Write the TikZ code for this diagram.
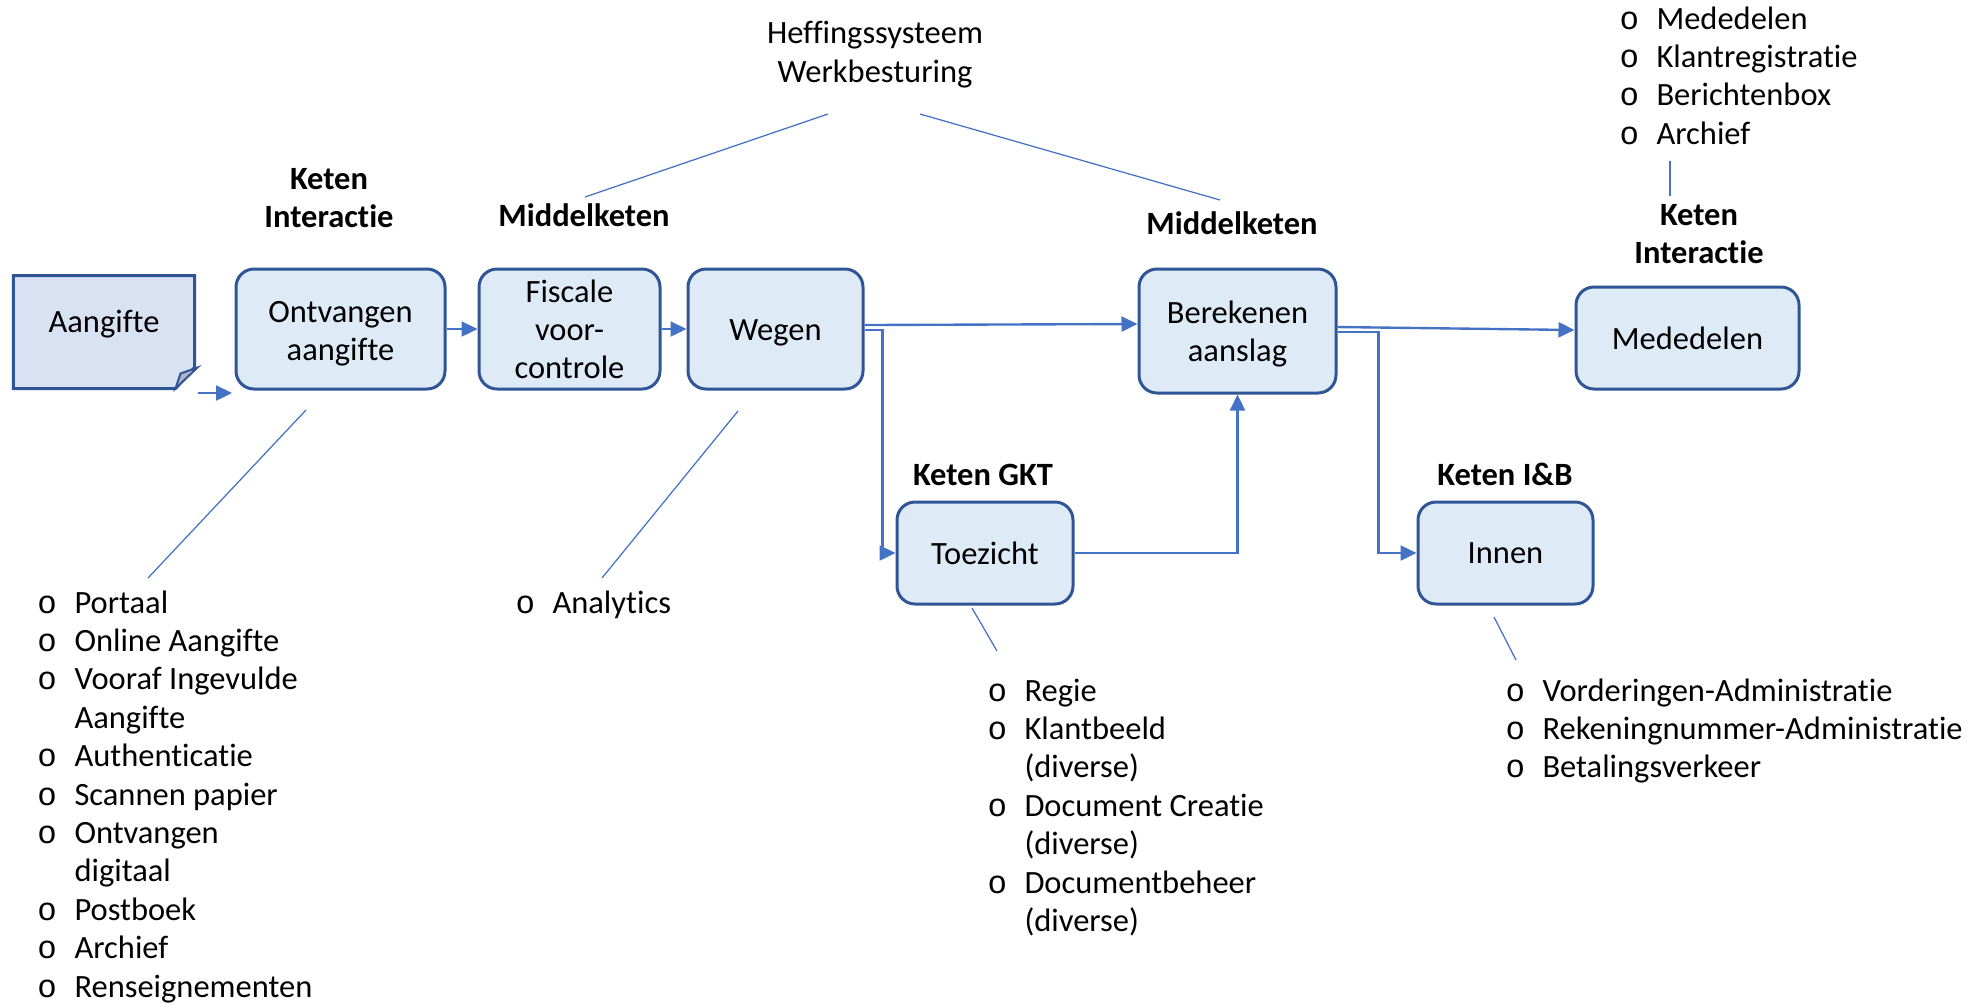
\documentclass[tikz,border=0pt]{standalone}
\usepackage{fontspec}
\setmainfont{Carlito}[Ligatures=NoCommon]
\newfontfamily\bulf{Liberation Mono}
\usetikzlibrary{arrows.meta}
\definecolor{boxfill}{HTML}{DEEBF7}
\definecolor{boxline}{HTML}{2F5597}
\definecolor{arrowc}{HTML}{4472C4}
\definecolor{docfill}{HTML}{D9E2F3}
\definecolor{foldfill}{HTML}{AEB5C4}
\newcommand\bitem[4]{\node[lt] (#1) at (#2,#3) {\llap{\bulf o\hspace{7pt}}#4};}
\newcommand\citem[4]{\node[lt] (#1) at (#2,#3) {#4};}
\newcommand\boxtxt[2]{\raisebox{#1}[\height][\depth]{\begin{tabular}{@{}c@{}}#2\end{tabular}}}
\begin{document}
\begin{tikzpicture}[x=0.4pt,y=-0.4pt,
  every node/.style={font=\fontsize{13}{15.36}\selectfont},
  proc/.style={draw=boxline, line width=1.2pt, fill=boxfill, rounded corners=7.2pt, align=center, inner sep=0pt},
  arr/.style={draw=arrowc, line width=0.95pt, -{Triangle[length=6.4pt,width=6pt]}},
  thinln/.style={draw=arrowc, line width=0.5pt},
  hdr/.style={font=\fontsize{13}{15.36}\selectfont\bfseries, align=center, inner sep=0pt},
  lt/.style={inner sep=0pt, anchor=base west},
]
\useasboundingbox (0,0) rectangle (1982,1003);

% document shape
\node[minimum width=72pt, minimum height=44.8pt, inner sep=0pt] (aang) at (104,332) {};
\draw[draw=boxline, line width=1.2pt, fill=docfill]
  (aang.north west) -- (aang.north east) -- ([yshift=8.4pt]aang.south east)
  -- ([xshift=-7.6pt]aang.south east) -- (aang.south west) -- cycle;
\draw[draw=boxline, line width=0.8pt, fill=foldfill]
  ([xshift=-7.6pt]aang.south east) -- ([xshift=-5.6pt,yshift=6pt]aang.south east)
  -- ([xshift=1.2pt,yshift=8.4pt]aang.south east) -- cycle;
\node[inner sep=0pt] (aanglbl) at ([yshift=3.2pt]aang.center) {Aangifte};

% process boxes
\node[proc, minimum width=83.6pt, minimum height=48pt] (ont) at (340.5,329) {\boxtxt{-1.9pt}{Ontvangen\\aangifte}};
\node[proc, minimum width=72.4pt, minimum height=48pt] (fis) at (569.5,329) {\boxtxt{-1.5pt}{Fiscale\\voor-\\controle}};
\node[proc, minimum width=70pt, minimum height=48pt] (weg) at (775.5,329) {\raisebox{-1.6pt}[\height][\depth]{Wegen}};
\node[proc, minimum width=78.8pt, minimum height=49.6pt] (ber) at (1237.5,331) {\boxtxt{-1.5pt}{Berekenen\\aanslag}};
\node[proc, minimum width=89.2pt, minimum height=40.8pt] (med) at (1687.5,338) {Mededelen};
\node[proc, minimum width=70.4pt, minimum height=40.8pt] (toe) at (985,553) {Toezicht};
\node[proc, minimum width=70pt, minimum height=40.8pt] (inn) at (1505.5,553) {Innen};

% headers
\node[hdr] (h_ki1) at (329,198) {Keten\\Interactie};
\node[hdr, anchor=base] (h_mk1) at (584,226) {Middelketen};
\node[hdr, anchor=base] (h_mk2) at (1232,234) {Middelketen};
\node[hdr] (h_ki2) at (1699,234) {Keten\\Interactie};
\node[hdr, anchor=base] (h_gkt) at (983,485) {Keten GKT};
\node[hdr, anchor=base] (h_ib) at (1505,485) {Keten I\&B};
\node[align=center, inner sep=0pt] (heff) at (875,54.5) {Heffingssysteem\\Werkbesturing};

% connectors
\coordinate (sa1) at (198,393);
\coordinate (sa2) at (232,393);
\draw[arr] (sa1) -- (sa2);
\draw[arr] (ont.east) -- (fis.west);
\draw[arr] (fis.east) -- (weg.west);
\draw[arr] ([yshift=1.6pt]weg.east) -- ([yshift=2.8pt]ber.west);
\draw[arr] ([yshift=-0.4pt]weg.east) -- ++(18,0) |- (toe.west);
\draw[arr] (toe.east) -| (ber.south);
\draw[arr] ([yshift=1.6pt]ber.east) -- ([yshift=3.2pt]med.west);
\draw[arr] ([yshift=-0.4pt]ber.east) -- ++(41,0) |- (inn.west);

% thin lines
\coordinate (t1a) at (828,114); \coordinate (t1b) at (585,197);
\coordinate (t2a) at (920,114); \coordinate (t2b) at (1220,200);
\coordinate (t3a) at (1670,161); \coordinate (t3b) at (1670,196);
\coordinate (t4a) at (306,410); \coordinate (t4b) at (148,578);
\coordinate (t5a) at (738,411); \coordinate (t5b) at (602,578);
\coordinate (t6a) at (972,608); \coordinate (t6b) at (997,651);
\coordinate (t7a) at (1494,617); \coordinate (t7b) at (1516,660);
\draw[thinln] (t1a) -- (t1b);
\draw[thinln] (t2a) -- (t2b);
\draw[thinln] (t3a) -- (t3b);
\draw[thinln] (t4a) -- (t4b);
\draw[thinln] (t5a) -- (t5b);
\draw[thinln] (t6a) -- (t6b);
\draw[thinln] (t7a) -- (t7b);

% left list
\bitem{l1}{74}{613}{Portaal}
\bitem{l2}{74}{651.4}{Online Aangifte}
\bitem{l3}{74}{689.8}{Vooraf Ingevulde}
\citem{l3b}{74}{728.2}{Aangifte}
\bitem{l4}{74}{766.6}{Authenticatie}
\bitem{l5}{74}{805}{Scannen papier}
\bitem{l6}{74}{843.4}{Ontvangen}
\citem{l6b}{74}{881.8}{digitaal}
\bitem{l7}{74}{920.2}{Postboek}
\bitem{l8}{74}{958.6}{Archief}
\bitem{l9}{74}{997}{Renseignementen}

% analytics
\bitem{a1}{552}{613}{Analytics}

% toezicht list
\bitem{g1}{1024}{701}{Regie}
\bitem{g2}{1024}{739.4}{Klantbeeld}
\citem{g2b}{1024}{777.8}{(diverse)}
\bitem{g3}{1024}{816.2}{Document Creatie}
\citem{g3b}{1024}{854.6}{(diverse)}
\bitem{g4}{1024}{893}{Documentbeheer}
\citem{g4b}{1024}{931.4}{(diverse)}

% innen list
\bitem{i1}{1542}{701}{Vorderingen-Administratie}
\bitem{i2}{1542}{739.4}{Rekeningnummer-Administratie}
\bitem{i3}{1542}{777.8}{Betalingsverkeer}

% mededelen list
\bitem{m1}{1656}{29}{Mededelen}
\bitem{m2}{1656}{67.4}{Klantregistratie}
\bitem{m3}{1656}{105.8}{Berichtenbox}
\bitem{m4}{1656}{144.2}{Archief}
\end{tikzpicture}
\end{document}
